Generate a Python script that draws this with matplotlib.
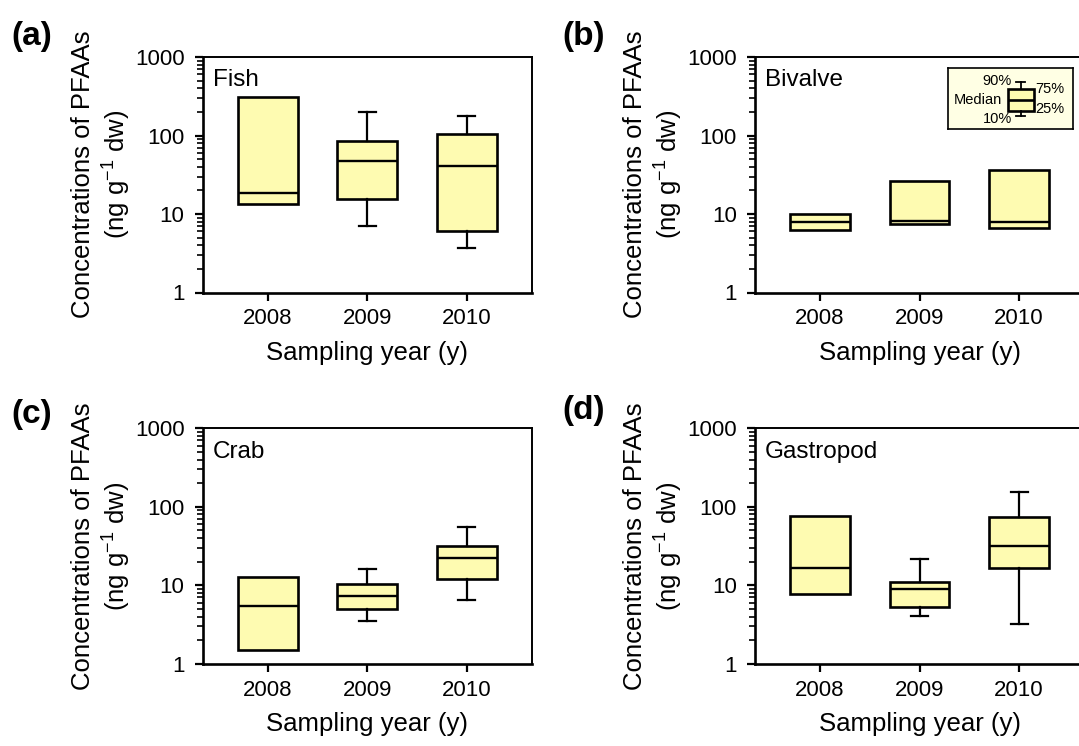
import numpy as np
import matplotlib
matplotlib.use('Agg')
import matplotlib.pyplot as plt
from matplotlib.ticker import LogLocator, NullFormatter

plt.rcParams['font.family'] = ['Liberation Sans', 'DejaVu Sans']
plt.rcParams['mathtext.fontset'] = 'custom'
plt.rcParams['mathtext.rm'] = 'Liberation Sans'
plt.rcParams['mathtext.default'] = 'regular'

nan = np.nan
years = ['2008', '2009', '2010']

# 10th, 25th, median, 75th, 90th percentiles (nan = no whisker)
fish_p10 = [nan, 7.1, 3.65]
fish_q1 = [13.4, 15.4, 6.07]
fish_med = [18.7, 47.5, 41]
fish_q3 = [308, 85.5, 104]
fish_p90 = [nan, 199, 175]

bivalve_p10 = [nan, nan, nan]
bivalve_q1 = [6.3, 7.4, 6.65]
bivalve_med = [8.0, 8.2, 8.0]
bivalve_q3 = [10.1, 26.4, 36.4]
bivalve_p90 = [nan, nan, nan]

crab_p10 = [nan, 3.55, 6.5]
crab_q1 = [1.48, 4.95, 12.1]
crab_med = [5.5, 7.3, 22.3]
crab_q3 = [12.9, 10.5, 31.8]
crab_p90 = [nan, 16.2, 56]

gastro_p10 = [nan, 4.05, 3.2]
gastro_q1 = [7.85, 5.3, 16.7]
gastro_med = [16.5, 9.0, 31.8]
gastro_q3 = [76.5, 11.1, 74.3]
gastro_p90 = [nan, 21.5, 153]

BOX_FILL = '#FEFBB1'
W, H = 1079, 746


def draw_panel(ax, p10, q1, med, q3, p90, name):
    stats = []
    for i in range(len(years)):
        lo = q1[i] if np.isnan(p10[i]) else p10[i]
        hi = q3[i] if np.isnan(p90[i]) else p90[i]
        stats.append(dict(med=med[i], q1=q1[i], q3=q3[i], whislo=lo, whishi=hi, fliers=[]))
    art = ax.bxp(stats, positions=range(len(years)), widths=0.6, capwidths=0.17,
                 patch_artist=True, showfliers=False,
                 boxprops=dict(facecolor=BOX_FILL, edgecolor='black', linewidth=1.9),
                 medianprops=dict(color='black', linewidth=1.7),
                 whiskerprops=dict(color='black', linewidth=1.6),
                 capprops=dict(color='black', linewidth=1.6))
    for i in range(len(years)):
        if np.isnan(p10[i]):
            art['caps'][2 * i].set_visible(False)
        if np.isnan(p90[i]):
            art['caps'][2 * i + 1].set_visible(False)

    ax.set_yscale('log')
    ax.set_ylim(1, 1000)
    ax.set_xlim(-0.655, 2.655)
    ax.set_yticks([1, 10, 100, 1000], ['1', '10', '100', '1000'])
    ax.yaxis.set_minor_locator(LogLocator(base=10, subs=np.arange(2, 10)))
    ax.yaxis.set_minor_formatter(NullFormatter())
    ax.set_xticks(range(len(years)), years)
    ax.tick_params(axis='y', which='major', direction='out', length=6, width=1.6,
                   labelsize=16, pad=7)
    ax.tick_params(axis='y', which='minor', direction='out', length=4, width=1.2)
    ax.tick_params(axis='x', which='major', direction='out', length=6, width=1.6,
                   labelsize=16, pad=5.5)
    for s in ['left', 'bottom']:
        ax.spines[s].set_linewidth(1.9)
    for s in ['top', 'right']:
        ax.spines[s].set_linewidth(1.4)

    ax.set_ylabel('Concentrations of PFAAs\n(ng g$^{-1}$ dw)', fontsize=18.5, linespacing=1.25)
    ax.yaxis.set_label_coords(-0.211, 0.5)
    ax.set_xlabel('Sampling year (y)', fontsize=18.5)
    ax.xaxis.set_label_coords(0.5, -0.205)
    ax.text(0.031, 0.875, name, transform=ax.transAxes, fontsize=17.5)


fig = plt.figure(figsize=(W / 100, H / 100), dpi=100)

lefts = [202.5, 754.8, 202.5, 754.8]
tops = [57, 57, 428.3, 428.3]
aw, ah = 329.5, 235.5
panels = [
    (fish_p10, fish_q1, fish_med, fish_q3, fish_p90, 'Fish'),
    (bivalve_p10, bivalve_q1, bivalve_med, bivalve_q3, bivalve_p90, 'Bivalve'),
    (crab_p10, crab_q1, crab_med, crab_q3, crab_p90, 'Crab'),
    (gastro_p10, gastro_q1, gastro_med, gastro_q3, gastro_p90, 'Gastropod'),
]
labels = ['(a)', '(b)', '(c)', '(d)']
label_pos = [(11, 37), (562, 36), (11, 415), (562, 410)]

for i, p in enumerate(panels):
    ax = fig.add_axes([lefts[i] / W, 1 - (tops[i] + ah) / H, aw / W, ah / H])
    draw_panel(ax, *p)
    fig.text(label_pos[i][0] / W, 1 - label_pos[i][1] / H, labels[i],
             fontsize=24, fontweight='bold', va='center')

# key box in panel (b), drawn in pixel units
leg = fig.add_axes([948.3 / W, 1 - 129.3 / H, 124.4 / W, 61 / H])
leg.set_xlim(0, 124.4)
leg.set_ylim(61, 0)
leg.set_facecolor('#FFFFE4')
for s in leg.spines.values():
    s.set_linewidth(1.2)
leg.bxp([dict(med=31.7, q1=42.4, q3=20.7, whislo=47.7, whishi=14, fliers=[])],
        positions=[72.2], widths=26, capwidths=9.3, patch_artist=True, showfliers=False,
        boxprops=dict(facecolor=BOX_FILL, edgecolor='black', linewidth=1.9),
        medianprops=dict(color='black', linewidth=1.9),
        whiskerprops=dict(color='black', linewidth=1.3),
        capprops=dict(color='black', linewidth=1.3))
leg.set_xticks([])
leg.set_yticks([])
key_text = ['90%', 'Median', '10%', '75%', '25%']
key_x = [63.4, 53.4, 63.4, 87.4, 87.4]
key_y = [13, 31.7, 51, 21, 40.7]
key_ha = ['right', 'right', 'right', 'left', 'left']
for t, x, y, ha in zip(key_text, key_x, key_y, key_ha):
    leg.text(x, y, t, ha=ha, va='center', fontsize=10.5)

fig.savefig('out.png', dpi=100)
